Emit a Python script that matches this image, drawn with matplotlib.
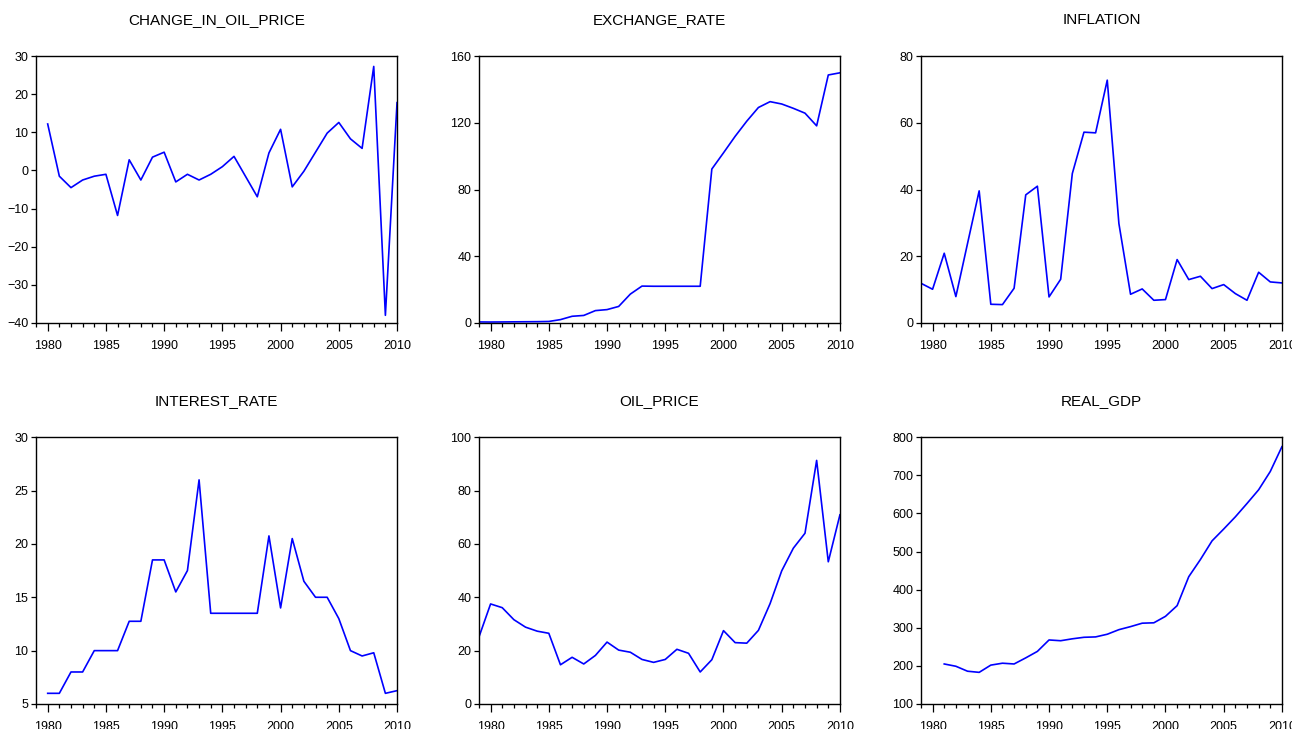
import numpy as np
import matplotlib.pyplot as plt
from matplotlib.ticker import MultipleLocator

plt.rcParams['font.family'] = ['Liberation Sans', 'DejaVu Sans']

# data
years_chg = np.arange(1980, 2011)
change_in_oil_price = [12.2, -1.5, -4.5, -2.5, -1.5, -1.0, -11.8, 2.8, -2.5, 3.5,
                       4.8, -3.0, -1.0, -2.5, -1.0, 1.0, 3.7, -1.6, -6.9, 4.6,
                       10.8, -4.3, -0.2, 4.8, 9.8, 12.6, 8.3, 5.8, 27.3, -38.0, 17.8]

years_exch = np.arange(1979, 2011)
exchange_rate = [0.6, 0.55, 0.6, 0.67, 0.72, 0.77, 0.89, 2.0, 4.0, 4.5,
                 7.4, 8.0, 9.9, 17.3, 22.1, 22.0, 22.0, 22.0, 22.0, 22.0,
                 92.3, 102.0, 111.9, 121.0, 129.2, 132.7, 131.3, 128.7, 125.8, 118.2,
                 148.7, 150.0]

years_infl = np.arange(1979, 2011)
inflation = [11.9, 10.1, 20.9, 7.9, 23.8, 39.6, 5.6, 5.5, 10.4, 38.4,
             41.0, 7.8, 13.1, 44.8, 57.2, 57.0, 72.8, 29.8, 8.6, 10.2,
             6.8, 7.0, 19.0, 13.0, 14.0, 10.3, 11.5, 8.8, 6.8, 15.2,
             12.3, 12.0]

years_int = np.arange(1980, 2011)
interest_rate = [6.0, 6.0, 8.0, 8.0, 10.0, 10.0, 10.0, 12.75, 12.75, 18.5,
                 18.5, 15.5, 17.5, 26.0, 13.5, 13.5, 13.5, 13.5, 13.5, 20.75,
                 14.0, 20.5, 16.5, 15.0, 15.0, 13.0, 10.0, 9.5, 9.8, 6.0, 6.25]

years_oil = np.arange(1979, 2011)
oil_price = [25.1, 37.5, 36.1, 31.6, 28.8, 27.3, 26.5, 14.7, 17.5, 15.0,
             18.2, 23.2, 20.2, 19.4, 16.7, 15.6, 16.7, 20.5, 19.0, 12.0,
             16.6, 27.5, 23.0, 22.8, 27.6, 37.6, 49.9, 58.4, 64.0, 91.3,
             53.3, 70.9]

years_gdp = np.arange(1981, 2011)
real_gdp = [205, 199, 186, 183, 202, 207, 205, 221, 238, 268,
            266, 271, 275, 276, 283, 295, 303, 312, 313, 330,
            358, 434, 479, 528, 559, 591, 626, 662, 710, 775]

panels = [
    ("CHANGE_IN_OIL_PRICE", years_chg, change_in_oil_price, (-40, 30), 10),
    ("EXCHANGE_RATE", years_exch, exchange_rate, (0, 160), 40),
    ("INFLATION", years_infl, inflation, (0, 80), 20),
    ("INTEREST_RATE", years_int, interest_rate, (5, 30), 5),
    ("OIL_PRICE", years_oil, oil_price, (0, 100), 20),
    ("REAL_GDP", years_gdp, real_gdp, (100, 800), 100),
]

fig = plt.figure(figsize=(12.92, 7.29), dpi=100)
lefts = [0.0279, 0.3707, 0.7128]
bottoms = [0.557, 0.0343]
w, h = 0.2794, 0.366

for i, (title, x, y, ylim, step) in enumerate(panels):
    ax = fig.add_axes([lefts[i % 3], bottoms[i // 3], w, h])
    ax.plot(x, y, color='blue', lw=1.2)
    ax.set_xlim(1979, 2010)
    ax.set_ylim(*ylim)
    ax.xaxis.set_major_locator(MultipleLocator(5))
    ax.xaxis.set_minor_locator(MultipleLocator(1))
    ax.yaxis.set_major_locator(MultipleLocator(step))
    ax.tick_params(axis='x', which='major', direction='out', length=5.5, width=0.9,
                   pad=7, labelsize=9)
    ax.tick_params(axis='x', which='minor', direction='out', length=3, width=0.9)
    ax.tick_params(axis='y', which='major', direction='out', length=3.5, width=0.9,
                   pad=2, labelsize=9)
    for s in ax.spines.values():
        s.set_linewidth(1.0)
    ax.set_title(title, fontsize=11, pad=23)

plt.savefig('out.png', dpi=100)
